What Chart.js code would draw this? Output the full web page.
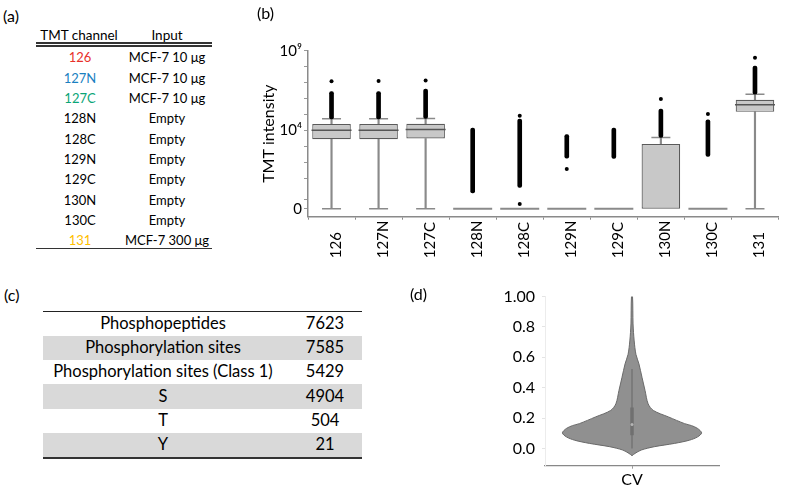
<!DOCTYPE html>
<html>
<head>
<meta charset="utf-8">
<script src="https://cdn.jsdelivr.net/npm/chart.js@4.4.1/dist/chart.umd.min.js"></script>
<style>
  body { margin: 0; width: 800px; height: 491px; background: #fff; position: relative; overflow: hidden;
         font-family: Lato, "DejaVu Sans", sans-serif; color: #000; }
  .abs { position: absolute; white-space: nowrap; }
  .panel { font-size: 16px; line-height: 16px; }
  .cell { text-align: center; width: 240px; }
  .rule { position: absolute; background: #333; }
  canvas { position: absolute; }
</style>
</head>
<body>
<div id="tableA"></div>
<div id="tableC"></div>
<canvas id="boxChart" width="560" height="300" style="left:240px;top:0px"></canvas>
<canvas id="violinChart" width="320" height="211" style="left:480px;top:280px"></canvas>
<div class="abs panel" style="left:3px;top:8px">(a)</div>
<div class="abs panel" style="left:257px;top:5px">(b)</div>
<div class="abs panel" style="left:4px;top:287px">(c)</div>
<div class="abs panel" style="left:410px;top:286px">(d)</div>
<script>
// (a) TMT labelling scheme
const channels = ['126', '127N', '127C', '128N', '128C', '129N', '129C', '130N', '130C', '131'];
const inputs = ['MCF-7 10 μg', 'MCF-7 10 μg', 'MCF-7 10 μg', 'Empty', 'Empty', 'Empty', 'Empty', 'Empty', 'Empty', 'MCF-7 300 μg'];

// (b) TMT intensity per channel, log10 units; ZERO is where intensity 0 sits on the axis
const ZERO = -0.9;
const boxQ1 = [3.46, 3.46, 3.50, ZERO, ZERO, ZERO, ZERO, ZERO, ZERO, 5.17];
const boxMedian = [4.02, 4.02, 4.06, ZERO, ZERO, ZERO, ZERO, ZERO, ZERO, 5.61];
const boxQ3 = [4.40, 4.40, 4.42, ZERO, ZERO, ZERO, ZERO, 3.15, ZERO, 5.92];
const whiskerLow = [ZERO, ZERO, ZERO, ZERO, ZERO, ZERO, ZERO, ZERO, ZERO, ZERO];
const whiskerHigh = [4.73, 4.73, 4.75, ZERO, ZERO, ZERO, ZERO, 3.56, ZERO, 6.27];
const outlierLow = [4.73, 4.73, 4.75, 0.09, 0.44, 2.27, 2.25, 3.56, 2.38, 6.27];
const outlierHigh = [6.44, 6.44, 6.59, 4.15, 4.71, 3.75, 4.15, 5.34, 4.67, 8.04];
const outlierTop = [7.09, 7.10, 7.13, null, 4.92, 1.59, null, 5.98, 5.04, 8.56];
const outlierBottom = [null, null, null, null, -0.6, null, null, null, null, null];
const yTickVals = [-0.9, -0.33, 1, 2, 3, 4, 5, 6, 7, 8, 9];
const yTickText = ['0', '', '', '', '', '10⁴', '', '', '', '', '10⁹'];

// (c) summary table
const summaryLabels = ['Phosphopeptides', 'Phosphorylation sites', 'Phosphorylation sites (Class 1)', 'S', 'T', 'Y'];
const summaryCounts = [7623, 7585, 5429, 4904, 504, 21];

// (d) CV violin: half width (relative density) at each CV level
const cvLevels = [-0.048, -0.033, -0.011, 0.011, 0.033, 0.054, 0.076, 0.102, 0.131, 0.15, 0.163, 0.207, 0.25, 0.294, 0.381, 0.468, 0.556, 0.62, 0.708, 0.82, 1.0];
const cvDensity = [0, 0.035, 0.105, 0.255, 0.49, 0.66, 0.755, 0.80, 0.755, 0.685, 0.605, 0.42, 0.245, 0.185, 0.15, 0.115, 0.08, 0.045, 0.025, 0.012, 0.006];
const cvWhisker = [0.0, 0.523];
const cvBox = [0.087, 0.27];
const cvMedian = 0.157;
const cvTicks = [0, 0.2, 0.4, 0.6, 0.8, 1.0];

const channelColors = { '126': '#e8302a', '127N': '#1a7fc1', '127C': '#0aa577', '131': '#ffc000' };
const FONT = 'Lato, "DejaVu Sans", sans-serif';

function addText(parent, text, cx, cy, size, color) {
    const d = document.createElement('div');
    d.className = 'abs cell';
    d.style.left = (cx - 120) + 'px';
    d.style.top = (cy - size * 0.6) + 'px';
    d.style.fontSize = size + 'px';
    d.style.lineHeight = (size * 1.2) + 'px';
    if (color) d.style.color = color;
    d.textContent = text;
    parent.appendChild(d);
    return d;
}
function addRule(parent, x, y, w, h, color) {
    const r = document.createElement('div');
    r.className = 'rule';
    Object.assign(r.style, { left: x + 'px', top: y + 'px', width: w + 'px', height: h + 'px' });
    if (color) r.style.background = color;
    parent.appendChild(r);
    return r;
}

// 1. table (a)
const ta = document.getElementById('tableA');
addText(ta, 'TMT channel', 79, 35, 13.5);
addText(ta, 'Input', 167, 35, 13.5);
addRule(ta, 36, 42, 176, 1.5);
addRule(ta, 36, 45, 176, 1.5);
channels.forEach((c, i) => {
    const cy = 58 + i * 20.35;
    addText(ta, c, 80, cy, 13, channelColors[c] || '#000');
    addText(ta, inputs[i], 167, cy, 13);
});
addRule(ta, 36, 248, 176, 1.2);

// 2. table (c)
const tc = document.getElementById('tableC');
const rowH = 24.3;
summaryLabels.forEach((lab, i) => {
    const top = 311.5 + i * rowH;
    if (i % 2 === 1) addRule(tc, 43, top, 319, rowH, '#d9d9d9');
    addText(tc, lab, 163, top + rowH / 2, 16.5);
    addText(tc, String(summaryCounts[i]), 325, top + rowH / 2, 16.5);
});
addRule(tc, 43, 310.5, 319, 1.3, '#222');
addRule(tc, 43, 456.5, 319, 2, '#333');

// 3. box plot (b)
const pick = (cond, val) => channels.map((c, i) => cond(i) ? val(i) : null);
const hasBox = i => boxQ3[i] > boxQ1[i];

const channelTickLabels = {
    id: 'channelTickLabels',
    afterDraw(chart) {
        const { ctx, scales: { x } } = chart;
        ctx.save();
        ctx.font = '15px ' + FONT;
        ctx.fillStyle = '#000';
        ctx.textAlign = 'left';
        ctx.textBaseline = 'alphabetic';
        channels.forEach((c, i) => {
            ctx.save();
            ctx.translate(x.getPixelForValue(i) + 9, x.top + 41.5);
            ctx.rotate(-Math.PI / 2);
            ctx.fillText(c, 0, 0);
            ctx.restore();
        });
        ctx.restore();
    }
};

const pointLine = (data, radius, color, width, order) => ({
    type: 'line', data, showLine: false, pointStyle: 'line', pointRadius: radius,
    pointBorderColor: color, pointBorderWidth: width, order
});

new Chart(document.getElementById('boxChart'), {
    type: 'bar',
    data: {
        labels: channels,
        datasets: [
            { data: pick(i => outlierHigh[i] > outlierLow[i], i => [outlierLow[i], outlierHigh[i]]),
              backgroundColor: '#000', barThickness: 4, borderRadius: 2, borderSkipped: false, grouped: false, order: 0 },
            { type: 'line', data: outlierTop, showLine: false, pointRadius: 2, pointBackgroundColor: '#000', pointBorderWidth: 0, order: 0 },
            { type: 'line', data: outlierBottom, showLine: false, pointRadius: 2, pointBackgroundColor: '#000', pointBorderWidth: 0, order: 0 },
            pointLine(pick(hasBox, i => boxMedian[i] > boxQ1[i] ? boxMedian[i] : null), 20, '#555', 1.5, 1),
            pointLine(pick(i => !hasBox(i), i => boxMedian[i]), 19.5, '#8a8a8a', 2, 2),
            pointLine(pick(i => whiskerHigh[i] > boxQ3[i], i => whiskerHigh[i]), 9.5, '#8a8a8a', 1.5, 2),
            pointLine(pick(i => boxQ1[i] > whiskerLow[i], i => whiskerLow[i]), 9.5, '#8a8a8a', 1.5, 2),
            { data: pick(hasBox, i => [boxQ1[i], boxQ3[i]]), backgroundColor: '#c8c8c8', borderColor: '#5a5a5a',
              borderWidth: 1.2, borderSkipped: false, barPercentage: 0.82, categoryPercentage: 1, grouped: false, order: 3 },
            { data: pick(i => whiskerHigh[i] > boxQ3[i], i => [boxQ3[i], whiskerHigh[i]]),
              backgroundColor: '#8a8a8a', barThickness: 1.5, grouped: false, order: 4 },
            { data: pick(i => boxQ1[i] > whiskerLow[i], i => [whiskerLow[i], boxQ1[i]]),
              backgroundColor: '#8a8a8a', barThickness: 1.5, grouped: false, order: 4 }
        ]
    },
    options: {
        responsive: false,
        animation: false,
        events: [],
        layout: { padding: { top: 50.7, right: 3, bottom: 0, left: 0 } },
        plugins: { legend: { display: false }, tooltip: { enabled: false } },
        scales: {
            x: {
                afterFit: s => { s.height = 83.3; },
                ticks: { display: false },
                grid: { drawOnChartArea: false, tickLength: 3, color: '#8a8a8a' },
                border: { color: '#8a8a8a', width: 1.5 }
            },
            y: {
                min: -1.4, max: 9,
                afterBuildTicks: s => { s.ticks = yTickVals.map(v => ({ value: v })); },
                afterFit: s => { s.width = 68; },
                ticks: { callback: (v, i) => yTickText[i], font: { size: 15, family: FONT }, color: '#000', padding: 2, autoSkip: false },
                grid: { drawOnChartArea: false, tickLength: 4, color: '#999' },
                border: { color: '#8a8a8a', width: 1.5 },
                title: { display: true, text: 'TMT intensity', font: { size: 16, family: FONT }, color: '#000', padding: { top: 19, bottom: 0 } }
            }
        }
    },
    plugins: [channelTickLabels]
});

// 4. violin (d)
const rightSide = cvLevels.map((y, i) => ({ x: cvDensity[i], y }));
const leftSide = cvLevels.map((y, i) => ({ x: -cvDensity[i], y })).reverse();

new Chart(document.getElementById('violinChart'), {
    type: 'line',
    data: {
        datasets: [
            { data: [{ x: 0, y: cvMedian }], showLine: false, pointRadius: 1.5, pointBackgroundColor: '#b4b4b4', pointBorderWidth: 0, order: 0 },
            { data: cvBox.map(y => ({ x: 0, y })), borderColor: '#707070', borderWidth: 3.5, pointRadius: 0, tension: 0, order: 1 },
            { data: cvWhisker.map(y => ({ x: 0, y })), borderColor: '#6e6e6e', borderWidth: 1.2, pointRadius: 0, tension: 0, order: 2 },
            { data: rightSide.concat(leftSide), fill: 'shape', backgroundColor: '#909090', borderColor: '#6a6a6a',
              borderWidth: 1, pointRadius: 0, tension: 0.3, order: 3 }
        ]
    },
    options: {
        responsive: false,
        animation: false,
        events: [],
        layout: { padding: { top: 15, right: 81, bottom: 0, left: 0 } },
        plugins: { legend: { display: false }, tooltip: { enabled: false } },
        scales: {
            x: {
                type: 'linear', min: -1, max: 1,
                afterBuildTicks: s => { s.ticks = [{ value: 0 }]; },
                afterFit: s => { s.height = 25.3; },
                ticks: { callback: () => 'CV', font: { size: 16, family: FONT }, color: '#000', padding: 2 },
                grid: { drawOnChartArea: false, tickLength: 3, color: '#999' },
                border: { color: '#888', width: 1.2 }
            },
            y: {
                min: -0.114, max: 1.0,
                afterBuildTicks: s => { s.ticks = cvTicks.map(v => ({ value: v })); },
                afterFit: s => { s.width = 65; },
                ticks: { callback: v => v === 1 ? '1.00' : v.toFixed(1), font: { size: 16, family: FONT }, color: '#000', padding: 7 },
                grid: { drawOnChartArea: false, tickLength: 3, color: '#e4e4e4' },
                border: { color: '#ececec', width: 1 }
            }
        }
    }
});
</script>
</body>
</html>
